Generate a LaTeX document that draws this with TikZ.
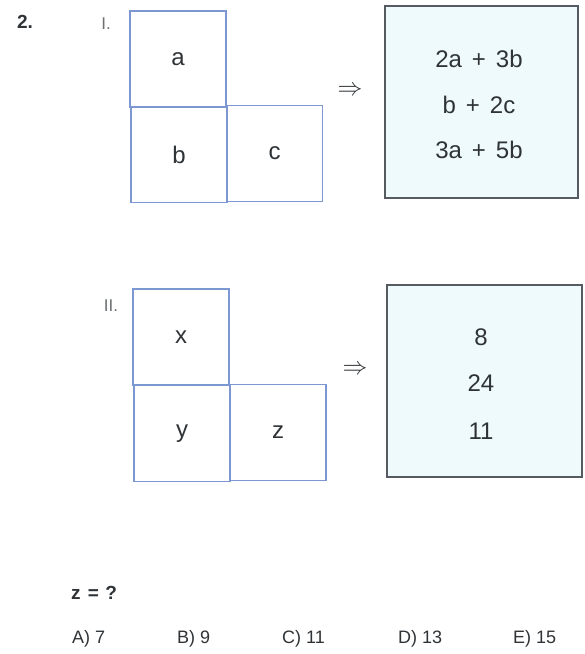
\documentclass[tikz,border=0pt]{standalone}
\usepackage{fontspec}
\setmainfont{Liberation Sans}
\definecolor{sqline}{HTML}{7C97D2}
\definecolor{boxline}{HTML}{555B60}
\definecolor{boxfill}{HTML}{EEFAFC}
\definecolor{ink}{HTML}{2F3336}
\newcommand{\pl}{\hspace{10pt}+\hspace{10pt}}
\begin{document}
\begin{tikzpicture}[x=1pt,y=-1pt,
  cell/.style={draw=sqline,line width=1.1pt,minimum width=96pt,minimum height=96pt,inner sep=0pt,
    text=ink,font=\fontsize{24}{24}\selectfont},
  resbox/.style={draw=boxline,fill=boxfill,line width=1.1pt,inner sep=0pt},
  restext/.style={text=ink,font=\fontsize{24}{24}\selectfont,inner sep=0pt},
  imp/.style={text=ink,font=\fontsize{25}{25}\selectfont,inner sep=0pt},
  label/.style={text=ink,font=\fontsize{18}{18}\selectfont,inner sep=0pt},
  roman/.style={text=ink!70,font=\fontsize{17}{17}\selectfont,inner sep=0pt},
  answer/.style={text=ink,font=\fontsize{18}{18}\selectfont,inner sep=0pt}]
\useasboundingbox (0,0) rectangle (585,654);
\fill[white] (0,0) rectangle (585,654);

% question number and roman numerals
\node[label,font=\bfseries\fontsize{19}{19}\selectfont] (num) at (25,22) {2.};
\node[roman] (r1) at (106,24) {I.};
\node[roman] (r2) at (111,306) {II.};

% Part I
\node[cell] (a) at (178,59) {a};
\node[cell] (b) at (179,154.5) {b};
\node[cell] (c) at (274.5,153.5) {c};
\node[imp] (arr1) at (350,91) {$\Rightarrow$};
\node[resbox,minimum width=193pt,minimum height=192pt] (res1) at (481.5,102) {};
\node[restext] (e1) at (479,59) {2a\pl{}3b};
\node[restext] (e2) at (479,105) {b\pl{}2c};
\node[restext] (e3) at (479,150) {3a\pl{}5b};

% Part II
\node[cell] (x) at (181,337) {x};
\node[cell] (y) at (182,433.5) {y};
\node[cell] (z) at (278,432.5) {z};
\node[imp] (arr2) at (355,370) {$\Rightarrow$};
\node[resbox,minimum width=195pt,minimum height=192pt] (res2) at (484.5,381) {};
\node[restext] (v1) at (481,337) {8};
\node[restext] (v2) at (481,383) {24};
\node[restext] (v3) at (481,431) {11};

% question and answers
\node[label,font=\bfseries\fontsize{19}{19}\selectfont,anchor=west] (q) at (71,593) {z\hspace{2pt} = \hspace{1pt}?};
\node[answer,anchor=west] (ansA) at (72,639) {A) 7};
\node[answer,anchor=west] (ansB) at (177,639) {B) 9};
\node[answer,anchor=west] (ansC) at (282,639) {C) 11};
\node[answer,anchor=west] (ansD) at (398,639) {D) 13};
\node[answer,anchor=west] (ansE) at (513,639) {E) 15};
\end{tikzpicture}
\end{document}
